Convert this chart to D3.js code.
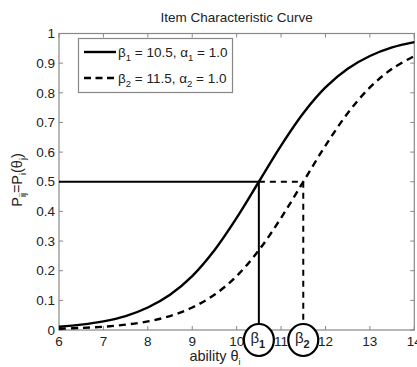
<!DOCTYPE html>
<html><head><meta charset="utf-8">
<script src="https://cdn.jsdelivr.net/npm/d3@7"></script>
<style>
html,body{margin:0;padding:0;background:#fff;}
svg{display:block;font-family:"Liberation Sans",Arial,sans-serif;}
</style></head>
<body><svg id="c" width="417" height="367"></svg>
<script>
// Data
const theta = [6,6.5,7,7.5,8,8.5,9,9.5,10,10.5,11,11.5,12,12.5,13,13.5,14];
const curve1 = [0.011,0.018,0.029,0.047,0.076,0.119,0.182,0.269,0.378,0.5,0.622,0.731,0.818,0.881,0.924,0.953,0.971];
const curve2 = [0.004,0.007,0.011,0.018,0.029,0.047,0.076,0.119,0.182,0.269,0.378,0.5,0.622,0.731,0.818,0.881,0.924];
const betas = [10.5, 11.5];
const pHalf = 0.5;
const xTicks = [6,7,8,9,10,11,12,13,14];
const yTicks = [0,0.1,0.2,0.3,0.4,0.5,0.6,0.7,0.8,0.9,1];
const legendLabels = [["β","1"," = 10.5, α","1"," = 1.0"],["β","2"," = 11.5, α","2"," = 1.0"]];

const svg = d3.select("#c");
const L=59, R=414.3, T=33.5, B=330;
const x = d3.scaleLinear().domain([6,14]).range([L,R]);
const y = d3.scaleLinear().domain([0,1]).range([B,T]);
const axisCol="#888", txtCol="#222";

// box
svg.append("rect").attr("x",L).attr("y",T).attr("width",R-L).attr("height",B-T)
  .attr("fill","none").attr("stroke",axisCol).attr("stroke-width",1.2);

// ticks inward
const tk=4;
xTicks.forEach(t=>{
  svg.append("line").attr("x1",x(t)).attr("x2",x(t)).attr("y1",B).attr("y2",B-tk).attr("stroke",axisCol);
  svg.append("line").attr("x1",x(t)).attr("x2",x(t)).attr("y1",T).attr("y2",T+tk).attr("stroke",axisCol);
});
yTicks.forEach(t=>{
  svg.append("line").attr("x1",L).attr("x2",L+tk).attr("y1",y(t)).attr("y2",y(t)).attr("stroke",axisCol);
  svg.append("line").attr("x1",R).attr("x2",R-tk).attr("y1",y(t)).attr("y2",y(t)).attr("stroke",axisCol);
  svg.append("text").attr("x",L-4).attr("y",y(t)).attr("dy","0.35em").attr("text-anchor","end")
    .attr("font-size",13.5).attr("fill",txtCol).text(d3.format("")(t));
});
xTicks.forEach(t=>{
  svg.append("text").attr("x",x(t)).attr("y",B+15.5).attr("text-anchor","middle")
    .attr("font-size",13.5).attr("fill",txtCol).text(t);
});

// curves
const line = d3.line().curve(d3.curveCatmullRom);
const pts1 = theta.map((t,i)=>[x(t),y(curve1[i])]);
const pts2 = theta.map((t,i)=>[x(t),y(curve2[i])]);
const g = svg.append("g");
g.append("path").attr("d",line(pts1)).attr("fill","none").attr("stroke","#000").attr("stroke-width",2.4);
g.append("path").attr("d",line(pts2)).attr("fill","none").attr("stroke","#000").attr("stroke-width",2.4)
  .attr("stroke-dasharray","7,5");

// guide lines
const circR=15, circY=340;
g.append("line").attr("x1",L).attr("x2",x(betas[0])).attr("y1",y(pHalf)).attr("y2",y(pHalf))
  .attr("stroke","#000").attr("stroke-width",2.2);
g.append("line").attr("x1",x(betas[0])).attr("x2",x(betas[1])).attr("y1",y(pHalf)).attr("y2",y(pHalf))
  .attr("stroke","#000").attr("stroke-width",2).attr("stroke-dasharray","6,5");
g.append("line").attr("x1",x(betas[0])).attr("x2",x(betas[0])).attr("y1",y(pHalf)).attr("y2",circY-circR)
  .attr("stroke","#000").attr("stroke-width",2);
g.append("line").attr("x1",x(betas[1])).attr("x2",x(betas[1])).attr("y1",y(pHalf)).attr("y2",circY-circR)
  .attr("stroke","#000").attr("stroke-width",2).attr("stroke-dasharray","6,5");

// circles with beta labels
betas.forEach((b,i)=>{
  svg.append("ellipse").attr("cx",x(b)).attr("cy",circY).attr("rx",circR).attr("ry",circR+1)
    .attr("fill","#fff").attr("stroke","#000").attr("stroke-width",2.2);
  const t = svg.append("text").attr("x",x(b)-1).attr("y",circY+3).attr("text-anchor","middle")
    .attr("font-size",15).attr("fill",txtCol);
  t.append("tspan").text("β");
  t.append("tspan").attr("dy",5).attr("font-size",11).attr("font-weight","bold").text(String(i+1));
});

// title & axis labels
svg.append("text").attr("x",(L+R)/2).attr("y",21.5).attr("text-anchor","middle").attr("font-size",13.5)
  .attr("fill",txtCol).text("Item Characteristic Curve");
const xl = svg.append("text").attr("x",215).attr("y",361).attr("text-anchor","middle").attr("font-size",14.5).attr("fill",txtCol);
xl.append("tspan").text("ability θ");
xl.append("tspan").attr("dy",4).attr("font-size",9).text("i");
const yl = svg.append("text").attr("transform","translate(22,180) rotate(-90)").attr("text-anchor","middle")
  .attr("font-size",14.5).attr("fill",txtCol);
yl.append("tspan").text("P");
yl.append("tspan").attr("dy",4).attr("font-size",9).text("ij");
yl.append("tspan").attr("dy",-4).text("=P");
yl.append("tspan").attr("dy",4).attr("font-size",9).text("i");
yl.append("tspan").attr("dy",-4).text("(θ");
yl.append("tspan").attr("dy",4).attr("font-size",9).text("j");
yl.append("tspan").attr("dy",-4).text(")");

// legend
const lg = svg.append("g");
lg.append("rect").attr("x",78.5).attr("y",38.5).attr("width",154).attr("height",54)
  .attr("fill","#fff").attr("stroke",axisCol).attr("stroke-width",1.2);
[52,78].forEach((ly,i)=>{
  lg.append("line").attr("x1",84).attr("x2",116).attr("y1",ly).attr("y2",ly).attr("stroke","#000")
    .attr("stroke-width",2.4).attr("stroke-dasharray",i? "7,4.5":null);
  const t = lg.append("text").attr("x",118).attr("y",ly+5).attr("font-size",13.5).attr("fill",txtCol);
  const p = legendLabels[i];
  t.append("tspan").text(p[0]);
  t.append("tspan").attr("dy",4).attr("font-size",9.5).text(p[1]);
  t.append("tspan").attr("dy",-4).text(p[2]);
  t.append("tspan").attr("dy",4).attr("font-size",9.5).text(p[3]);
  t.append("tspan").attr("dy",-4).text(p[4]);
});
</script></body></html>
